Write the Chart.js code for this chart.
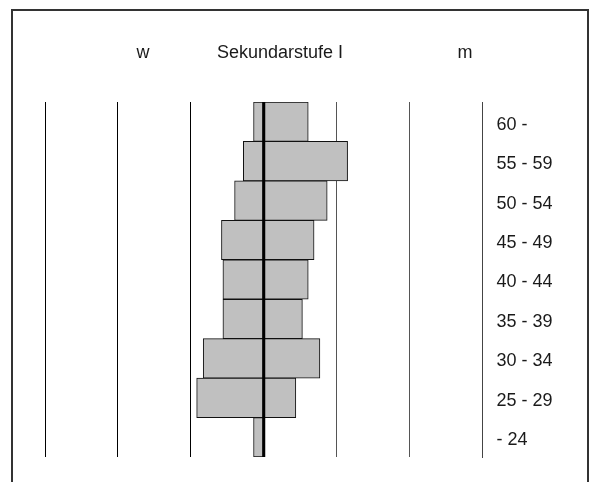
<!DOCTYPE html>
<html>
<head>
<meta charset="utf-8">
<script src="https://cdn.jsdelivr.net/npm/chart.js@4.4.1/dist/chart.umd.min.js"></script>
<style>
html,body{margin:0;padding:0;background:#fff;}
#wrap{position:relative;width:595px;height:482px;}
</style>
</head>
<body>
<div id="wrap"><canvas id="c" width="595" height="482"></canvas></div>
<script>
const ageGroups = ["60 -", "55 - 59", "50 - 54", "45 - 49", "40 - 44", "35 - 39", "30 - 34", "25 - 29", "- 24"];
const women = [1.4, 2.8, 4.0, 5.8, 5.6, 5.6, 8.3, 9.2, 1.4];
const men = [6.1, 11.5, 8.7, 6.9, 6.1, 5.3, 7.7, 4.4, 0];
const xTicks = [-30, -20, -10, 0, 10, 20, 30];
const titleText = "Sekundarstufe I";
const leftLabel = "w";
const rightLabel = "m";

const framePlugin = {
  id: 'frame',
  beforeDraw(chart) {
    const ctx = chart.ctx;
    ctx.save();
    ctx.strokeStyle = '#333';
    ctx.lineWidth = 2;
    ctx.beginPath();
    ctx.moveTo(12, 490);
    ctx.lineTo(12, 10);
    ctx.lineTo(588, 10);
    ctx.lineTo(588, 490);
    ctx.stroke();
    ctx.fillStyle = '#1a1a1a';
    ctx.font = '18px "Liberation Sans", Arial, sans-serif';
    ctx.textBaseline = 'middle';
    ctx.textAlign = 'center';
    ctx.fillText(leftLabel, 143, 53);
    ctx.fillText(titleText, 280, 53);
    ctx.fillText(rightLabel, 465, 53);
    ctx.restore();
  }
};

const centerLine = {
  id: 'centerLine',
  afterDatasetsDraw(chart) {
    const x = chart.scales.x.getPixelForValue(0);
    const a = chart.chartArea;
    const ctx = chart.ctx;
    ctx.save();
    ctx.strokeStyle = '#000';
    ctx.lineWidth = 3;
    ctx.beginPath();
    ctx.moveTo(x, a.top);
    ctx.lineTo(x, a.bottom);
    ctx.stroke();
    ctx.restore();
  }
};

new Chart(document.getElementById('c'), {
  type: 'bar',
  data: {
    labels: ageGroups,
    datasets: [
      { label: leftLabel, data: women.map(v => -v), backgroundColor: '#c0c0c0', borderColor: '#111', borderWidth: 1, borderSkipped: false },
      { label: rightLabel, data: men, backgroundColor: '#c0c0c0', borderColor: '#111', borderWidth: 1, borderSkipped: false }
    ]
  },
  options: {
    indexAxis: 'y',
    responsive: false,
    animation: false,
    layout: { padding: { top: 102, bottom: 25, left: 45, right: 0 } },
    datasets: { bar: { barPercentage: 1, categoryPercentage: 1 } },
    plugins: { legend: { display: false }, title: { display: false }, tooltip: { enabled: false } },
    scales: {
      x: {
        stacked: true,
        min: -30, max: 30,
        afterBuildTicks(scale) { scale.ticks = xTicks.map(v => ({ value: v })); },
        ticks: { display: false },
        grid: { drawTicks: false, color: ctx => (ctx.tick && ctx.tick.value > 0 ? '#555' : '#000'), lineWidth: 1 },
        border: { display: false },
        afterFit(scale) { scale.height = 0; }
      },
      y: {
        stacked: true,
        position: 'right',
        grid: { display: false, drawTicks: false },
        border: { display: true, color: '#444', width: 1 },
        ticks: { padding: 14, labelOffset: 3, color: '#1a1a1a', font: { family: '"Liberation Sans", Arial, sans-serif', size: 18 } },
        afterFit(scale) { scale.width = 112.5; }
      }
    }
  },
  plugins: [framePlugin, centerLine]
});
</script>
</body>
</html>
